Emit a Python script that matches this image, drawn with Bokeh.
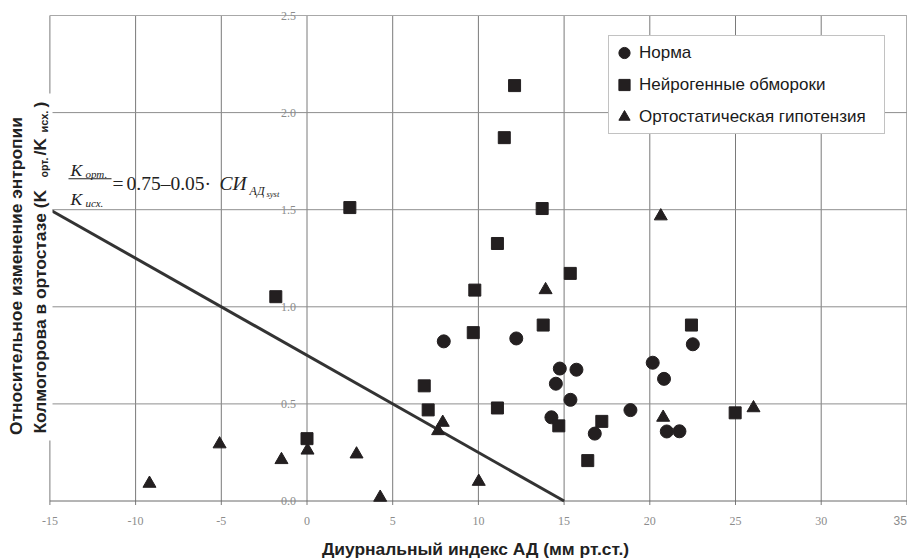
import math
from bokeh.plotting import figure
from bokeh.models import Range1d, Label, LabelSet, ColumnDataSource, BoxAnnotation
from bokeh.embed import file_html
from bokeh.resources import INLINE

# ---------------- data ----------------
norm_x = [7.98, 12.21, 14.75, 15.72, 14.52, 15.37, 14.26, 16.79, 18.87, 20.17, 20.83, 20.99, 21.73, 22.51]
norm_y = [0.822, 0.837, 0.682, 0.676, 0.604, 0.521, 0.431, 0.347, 0.468, 0.712, 0.629, 0.358, 0.359, 0.807]

sync_x = [12.11, 11.51, 2.50, 13.72, 11.11, 15.36, 9.79, -1.82, 0.0, 6.84, 7.07, 9.70, 13.78,
          11.11, 14.69, 16.38, 17.20, 22.43, 24.98]
sync_y = [2.139, 1.871, 1.511, 1.506, 1.326, 1.172, 1.086, 1.052, 0.321, 0.593, 0.469, 0.867, 0.906,
          0.479, 0.387, 0.208, 0.410, 0.906, 0.454]

hypo_x = [-9.19, -5.10, -1.49, 0.03, 2.89, 4.27, 7.65, 7.92, 10.02, 13.92, 20.64, 20.78, 26.05]
hypo_y = [0.090, 0.293, 0.212, 0.261, 0.241, 0.018, 0.361, 0.404, 0.100, 1.087, 1.467, 0.430, 0.479]

# regression line K_opt/K_isx = 0.75 - 0.05 * x
line_intercept = 0.75
line_slope = -0.05
line_x = [-15, 15]
line_y = [line_intercept + line_slope * v for v in line_x]

x_ticks = [-15, -10, -5, 0, 5, 10, 15, 20, 25, 30, 35]
x_tick_labels = ["-15", "-10", "-5", "0", "5", "10", "15", "20", "25", "30", "35"]
y_ticks = [0.0, 0.5, 1.0, 1.5, 2.0, 2.5]
y_tick_labels = ["0.0", "0.5", "1.0", "1.5", "2.0", "2.5"]

legend_labels = ["Норма", "Нейрогенные обмороки", "Ортостатическая гипотензия"]

x_title = "Диурнальный индекс АД (мм рт.ст.)"
y_title_1 = "Относительное изменение энтропии"
y_title_2 = ["Колмогорова в ортостазе (K", "орт.", "/K", "исх.", ")"]

# ---------------- layout (whole canvas is the plot frame) ----------------
W, H = 907, 558
SX = 17.14          # px per x unit
SY = 194.2          # px per y unit
PX0 = 306.5         # canvas px of x = 0
PY0 = 500.5         # canvas px of y = 0

def dx(px):
    return (px - PX0) / SX

def dy(py):
    return (PY0 - py) / SY

INK = "#231f20"
SANS = "Liberation Sans"
SERIF = "Liberation Serif"
TITLE = "#222222"
TITLE_SIZE = "17.4px"

p = figure(width=W, height=H, x_range=Range1d(dx(0), dx(W)), y_range=Range1d(dy(H), dy(0)),
           output_backend="svg", toolbar_location=None,
           min_border_left=0, min_border_right=0, min_border_top=0, min_border_bottom=0)
p.xaxis.visible = False
p.yaxis.visible = False
p.grid.visible = False
p.outline_line_color = None
p.background_fill_color = "white"
p.border_fill_color = "white"

# grid drawn from the tick arrays (bounded to the chart area, small ticks below 0)
tick_len = 4 / SY
p.segment(x0=x_ticks, y0=[-tick_len] * len(x_ticks), x1=x_ticks, y1=[y_ticks[-1]] * len(x_ticks),
          line_color="#7a7a7a", line_width=1)
p.segment(x0=[x_ticks[0]] * len(y_ticks), y0=y_ticks, x1=[x_ticks[-1]] * len(y_ticks), y1=y_ticks,
          line_color=["#6a6a6a", "#8e8e8e", "#8e8e8e", "#8e8e8e", "#8e8e8e", "#a8a8a8"], line_width=1)

# regression line
p.line(line_x, line_y, line_width=3, line_color="#333333")

# points
p.scatter(norm_x, norm_y, marker="circle", size=13, fill_color=INK, line_color=INK,
          legend_label=legend_labels[0])
p.scatter(sync_x, sync_y, marker="square", size=12, fill_color=INK, line_color=INK,
          legend_label=legend_labels[1])
p.scatter(hypo_x, hypo_y, marker="triangle", size=13, fill_color=INK, line_color=INK,
          legend_label=legend_labels[2])

# tick labels
ysrc = ColumnDataSource(dict(x=[0] * len(y_ticks), y=y_ticks, t=y_tick_labels))
p.add_layout(LabelSet(x="x", y="y", text="t", source=ysrc, x_offset=-11,
                      text_align="right", text_baseline="middle",
                      text_font=SANS, text_font_size="12px", text_color="#8c8c8c"))
xsrc = ColumnDataSource(dict(x=x_ticks[:-1], y=[0] * (len(x_ticks) - 1), t=x_tick_labels[:-1]))
p.add_layout(LabelSet(x="x", y="y", text="t", source=xsrc, y_offset=-19.5,
                      text_align="center", text_baseline="middle",
                      text_font=SANS, text_font_size="12px", text_color="#8c8c8c"))
# last tick label sits at the right edge of the canvas: keep it inside
p.add_layout(Label(x=x_ticks[-1], y=0, text=x_tick_labels[-1], y_offset=-19.5, x_offset=0,
                   text_align="right", text_baseline="middle",
                   text_font=SANS, text_font_size="12px", text_color="#8c8c8c"))

# x title
p.add_layout(Label(x=dx(475), y=dy(548), text=x_title, text_align="center",
                   text_baseline="middle", text_font=SANS, text_font_size=TITLE_SIZE,
                   text_font_style="bold", text_color=TITLE))

# white cover behind the second y-title line (hides the left border there)
p.add_layout(BoxAnnotation(left=dx(28), right=dx(52), top=dy(93), bottom=dy(440),
                           fill_color="white", fill_alpha=1, line_color=None))

# y title (rotated)
def ylab(txt, px, py, size=TITLE_SIZE, align="left"):
    p.add_layout(Label(x=dx(px), y=dy(py), text=txt, angle=math.pi / 2,
                       text_align=align, text_baseline="middle",
                       text_font=SANS, text_font_size=size, text_font_style="bold",
                       text_color=TITLE))

ylab(y_title_1, 15.5, 275.5, align="center")
ylab(y_title_2[0], 39.5, 433)
ylab(y_title_2[1], 43.5, 177, size="10.5px")
ylab(y_title_2[2], 39.5, 155)
ylab(y_title_2[3], 43.5, 132, size="11px")
ylab(y_title_2[4], 39.5, 107)

# formula
def flab(txt, px, py, size, style="italic", align="left"):
    p.add_layout(Label(x=dx(px), y=dy(py), text=txt, text_align=align,
                       text_baseline="alphabetic", text_font=SERIF,
                       text_font_size=size, text_font_style=style, text_color=TITLE))

flab("K", 70, 169, "17.5px")
flab("орт.", 85, 173, "11px")
flab("K", 70, 198, "17.5px")
flab("исх.", 85, 202, "11px")
flab("=", 112, 183, "19.5px", style="normal")
flab("0.75–0.05·", 126, 183, "19.5px", style="normal")
flab("СИ", 219, 183, "19.5px")
flab("АД", 249, 190, "12px")
flab("syst", 266, 193, "8.5px")
p.add_layout(BoxAnnotation(left=dx(68), right=dx(111), top=dy(177.8), bottom=dy(178.8),
                           fill_color=TITLE, fill_alpha=1, line_color=None))

# legend
lg = p.legend[0]
lg.location = (608, H - 134)
lg.margin = 0
lg.padding = 1
lg.spacing = 1
lg.glyph_width = 28
lg.glyph_height = 31
lg.label_standoff = 1
lg.label_width = 244
lg.label_height = 31
lg.label_text_font = SANS
lg.label_text_font_size = "17px"
lg.label_text_color = "#1a1a1a"
lg.border_line_color = "#858585"
lg.border_line_width = 1
lg.background_fill_color = "white"
lg.background_fill_alpha = 1

open("out.html", "w").write(file_html(p, INLINE))
